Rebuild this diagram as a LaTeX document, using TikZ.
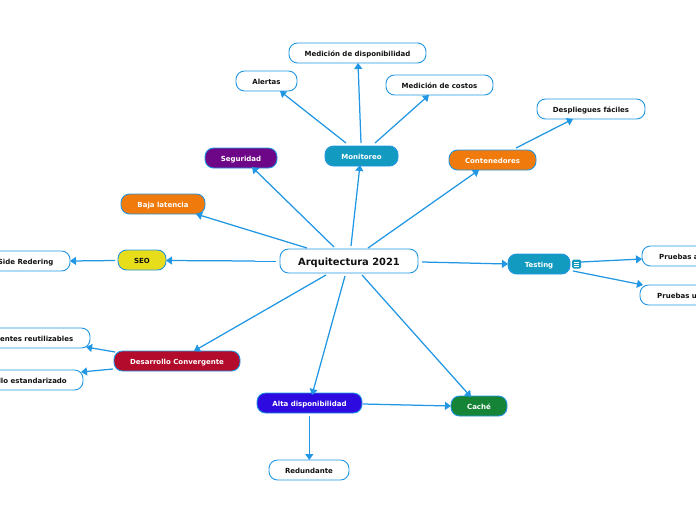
\documentclass[tikz,border=0pt]{standalone}
\usepackage{fontspec}
\setmainfont{DejaVu Sans}
\usetikzlibrary{arrows.meta}
\definecolor{linkblue}{HTML}{2196E3}
\definecolor{cteal}{HTML}{139AC0}
\definecolor{cpurple}{HTML}{6E0787}
\definecolor{corange}{HTML}{F07A0C}
\definecolor{cyellow}{HTML}{E8DD1A}
\definecolor{cred}{HTML}{B30B2B}
\definecolor{cindigo}{HTML}{2D0AE0}
\definecolor{cgreen}{HTML}{168437}
\definecolor{ink}{HTML}{111111}
\tikzset{
  x=1pt,y=-1pt,
  box/.style={draw=linkblue,line width=0.9pt,rounded corners=8.5pt,inner sep=0pt,minimum height=20pt,text height=7.4pt,text depth=0pt,font=\bfseries\fontsize{7}{8}\selectfont},
  leaf/.style={box,fill=white,text=ink},
  filled/.style={box,fill=#1,text=white},
  dark/.style={box,fill=#1,text=ink},
  lbl/.style={inner sep=0pt,text=ink,text height=7.4pt,text depth=0pt,font=\bfseries\fontsize{7}{8}\selectfont},
  conn/.style={draw=linkblue,line width=1.25pt,-{Triangle[length=6pt,width=8pt]}},
  stub/.style={draw=linkblue,line width=0.7pt},
}
\newcommand{\conn}[4]{\draw[conn] ([shift={(#2)}]#1.center) -- ([shift={(#4)}]#3.center);}
\begin{document}
\begin{tikzpicture}
\useasboundingbox (0,0) rectangle (696,520);
% nodes
\node[leaf,minimum width=138pt,minimum height=24pt,text height=9.6pt,font=\bfseries\fontsize{9.9}{11}\selectfont] (c) at (349,261) {Arquitectura 2021};
\node[leaf,minimum width=137pt] (disp) at (357.5,53) {Medición de disponibilidad};
\node[leaf,minimum width=61pt] (alertas) at (266.5,81) {Alertas};
\node[leaf,minimum width=107pt] (costos) at (439.5,85) {Medición de costos};
\node[leaf,minimum width=108pt] (despl) at (591,109) {Despliegues fáciles};
\node[filled=cteal,minimum width=73pt] (mon) at (361.5,156) {Monitoreo};
\node[filled=cpurple,minimum width=72pt] (seg) at (241,158) {Seguridad};
\node[filled=corange,minimum width=87pt] (cont) at (492.5,160) {Contenedores};
\node[filled=corange,minimum width=84pt] (baja) at (163,204) {Baja latencia};
\node[dark=cyellow,minimum width=48pt] (seo) at (142,260) {SEO};
\node[leaf,minimum width=100pt] (sr) at (20,261) {};
\node[lbl,anchor=east] (srt) at (53.5,261) {Side Redering};
\node[filled=cred,minimum width=126pt] (des) at (177,361) {Desarrollo Convergente};
\node[leaf,minimum width=100pt] (comp) at (40,338) {};
\node[lbl,anchor=east] (compt) at (73.5,338) {nentes reutilizables};
\node[leaf,minimum width=100pt] (est) at (33,380) {};
\node[lbl,anchor=east] (estt) at (67,380) {llo estandarizado};
\node[filled=cindigo,minimum width=105pt] (alta) at (309.5,403) {Alta disponibilidad};
\node[filled=cgreen,minimum width=56pt] (cache) at (479,406) {Caché};
\node[leaf,minimum width=80pt] (red) at (309,470) {Redundante};
\node[filled=cteal,minimum width=62pt] (test) at (539,264) {Testing};
\node[draw=none,fill=cteal,rounded corners=1.5pt,minimum width=9pt,minimum height=9pt,inner sep=0pt] (icon) at (576.5,264) {};
\foreach \d in {-2,0,2}{\draw[white,line width=0.7pt] ([shift={(-2.8,\d)}]icon.center) -- ([shift={(2.8,\d)}]icon.center);}
\node[leaf,minimum width=100pt] (pa) at (692,256) {};
\node[lbl,anchor=west] (pat) at (659,256) {Pruebas a};
\node[leaf,minimum width=100pt] (pu) at (690,295) {};
\node[lbl,anchor=west] (put) at (657,295) {Pruebas u};
% connectors
\conn{c}{2,-15}{mon}{-1.5,9}
\conn{c}{-15,-14}{seg}{11,9}
\conn{c}{19,-13}{cont}{-13.5,10}
\conn{c}{-42,-13}{baja}{33,10}
\draw[stub] ([shift={(-73,0)}]c.center) -- ([shift={(-94,0)}]c.center);
\conn{c}{-94,0}{seo}{24,0.5}
\conn{seo}{-27,0.5}{sr}{50,0}
\conn{c}{-23,14}{des}{17,-10}
\conn{c}{-4,15}{alta}{2.5,-8}
\conn{c}{13,14}{cache}{-8,-9}
\conn{c}{73,1}{test}{-31,0}
\conn{icon}{4.5,-2}{pa}{-50,3}
\conn{test}{34,7}{pu}{-47,-10}
\conn{des}{-62,-9}{comp}{46,9}
\conn{des}{-64,8}{est}{48,-8}
\conn{alta}{53.5,1}{cache}{-28,0}
\conn{alta}{-0.2,13}{red}{0.3,-10}
\conn{mon}{-15.5,-13}{alertas}{13.5,10}
\conn{mon}{-0.5,-13}{disp}{0.5,10}
\conn{mon}{13.5,-13}{costos}{-10.5,10}
\conn{cont}{23.5,-12}{despl}{-18,10}
\end{tikzpicture}
\end{document}
